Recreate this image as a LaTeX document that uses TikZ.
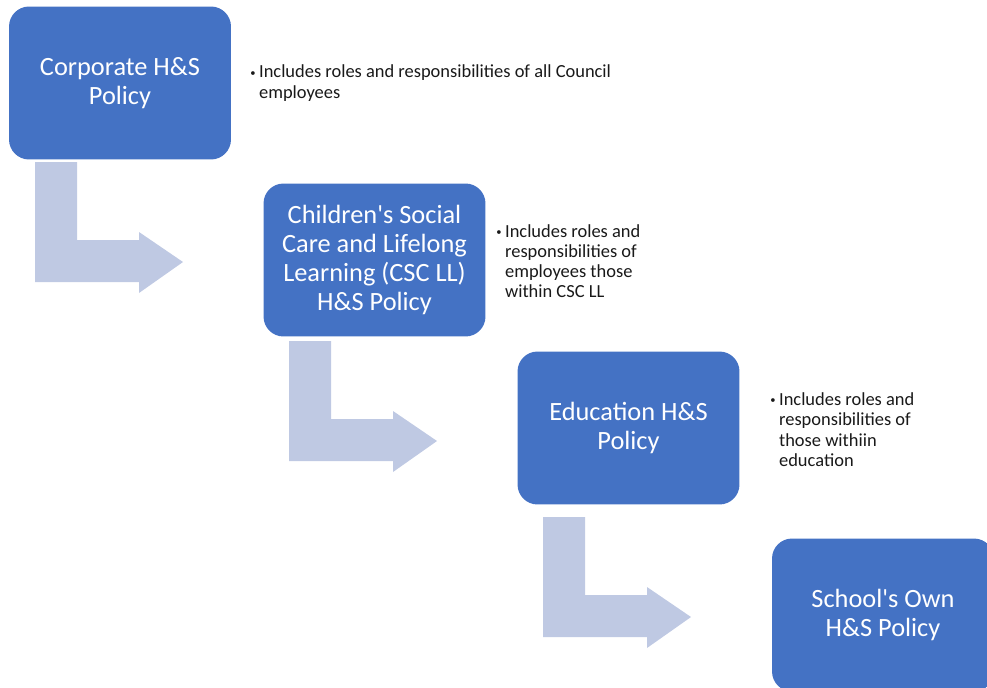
\documentclass[tikz,border=0pt]{standalone}
\usepackage{fontspec}
\setmainfont{Carlito}
\usepackage{xcolor}

\definecolor{policyblue}{RGB}{68,114,196}
\definecolor{flowgrey}{RGB}{191,201,227}

\tikzset{
  policy/.style={rectangle, rounded corners=0.4cm, fill=policyblue, text=white,
    minimum width=4.44cm, minimum height=3.06cm, align=center,
    font=\fontsize{15}{16.5}\selectfont},
  note/.style={anchor=west, inner sep=0pt, text=black!90,
    font=\fontsize{10.5}{11.5}\selectfont},
  bentarrow/.style={fill=flowgrey}
}
\newcommand{\notedot}{\raisebox{1pt}{\fontsize{6}{7}\selectfont\textbullet}}

\begin{document}
\begin{tikzpicture}[x=0.02cm, y=-0.02cm]
  \clip (0,0) rectangle (987,687);
  % bent arrows between levels
  \foreach \ax/\ay in {35/162, 289/341, 543/517}
    \fill[bentarrow, shift={(\ax,\ay)}] (0,0) -- (42,0) -- (42,78) -- (104,78)
      -- (104,70) -- (148,100) -- (104,131) -- (104,120) -- (0,120) -- cycle;
  % policy levels
  \node[policy] (corporate) at (120,83) {Corporate H\&S\\Policy};
  \node[policy] (csc) at (374.5,260) {Children\textquotesingle s Social\\Care and Lifelong\\Learning (CSC LL)\\H\&S Policy};
  \node[policy] (education) at (628.5,428) {Education H\&S\\Policy};
  \node[policy] (school) at (883,615) {School\textquotesingle s Own\\H\&S Policy};
  % notes
  \node[note] (corporatenote) at (250,84) {\begin{tabular}{@{}l@{\hspace{2pt}}l@{}}
    \notedot & Includes roles and responsibilities of all Council\\
         & employees\end{tabular}};
  \node[note] (cscnote) at (496,263.5) {\begin{tabular}{@{}l@{\hspace{2pt}}l@{}}
    \notedot & Includes roles and\\
         & responsibilities of\\
         & employees those\\
         & within CSC LL\end{tabular}};
  \node[note] (educationnote) at (770,432) {\begin{tabular}{@{}l@{\hspace{2pt}}l@{}}
    \notedot & Includes roles and\\
         & responsibilities of\\
         & those withiin\\
         & education\end{tabular}};
\end{tikzpicture}
\end{document}
